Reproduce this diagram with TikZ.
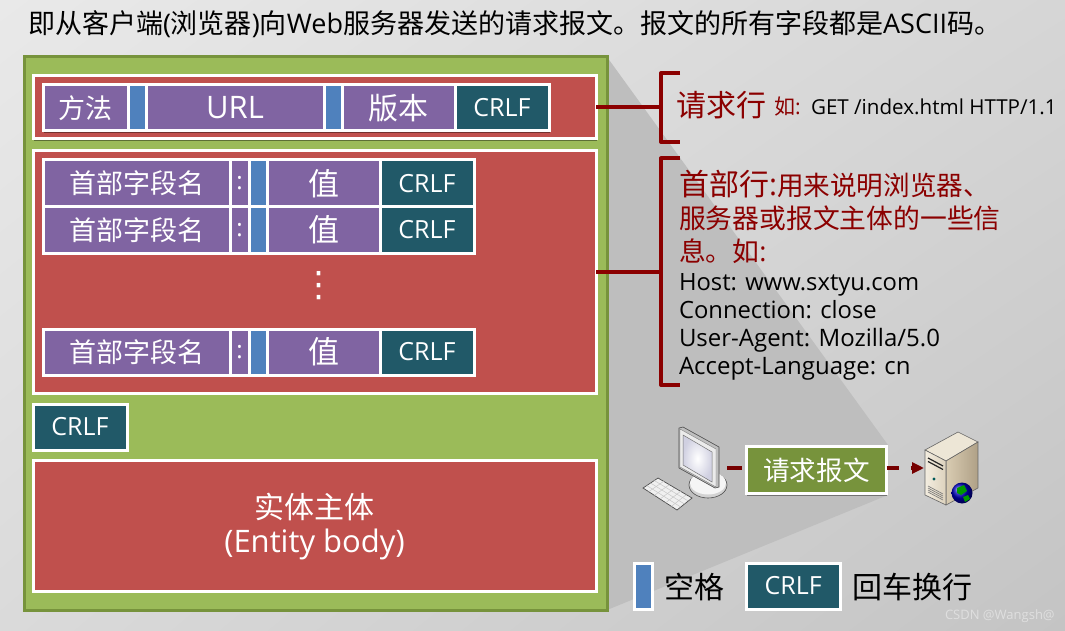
\documentclass[tikz,border=0pt]{standalone}
\usepackage{fontspec}
\setmainfont{Open Sans}
\newfontfamily\cjk{Noto Sans CJK SC}
\newfontfamily\dejav{DejaVu Sans}
\usetikzlibrary{shadows,arrows.meta,shadings}
\definecolor{bgA}{HTML}{E9E9E9}
\definecolor{bgB}{HTML}{D6D6D6}
\definecolor{bgC}{HTML}{DADADA}
\definecolor{bgD}{HTML}{C4C4C4}
\definecolor{wedge}{HTML}{BEBEBE}
\definecolor{grn}{HTML}{9BBB59}
\definecolor{dgrn}{HTML}{77933C}
\definecolor{red1}{HTML}{C0504D}
\definecolor{pur}{HTML}{8064A2}
\definecolor{blu}{HTML}{4F81BD}
\definecolor{teal1}{HTML}{215968}
\definecolor{brk}{HTML}{8B0000}
\definecolor{srvTop}{HTML}{EDE6D6}
\definecolor{srvL1}{HTML}{F3EDE0}
\definecolor{srvL2}{HTML}{DDD2BD}
\definecolor{srvR1}{HTML}{D9CCB2}
\definecolor{srvR2}{HTML}{AFA086}
\newcommand{\fs}[1]{\fontsize{#1}{#1}\selectfont}
\newcommand{\zh}[1]{{\cjk #1}}
\tikzset{
  x=1pt,y=-1pt,
  cell/.style={draw=white,line width=3pt,inner sep=0pt,outer sep=0pt,text=white,align=center,
     drop shadow={shadow xshift=0.5pt,shadow yshift=-2pt,opacity=.4,fill=black}},
  purplecell/.style={cell,fill=pur},
  bluecell/.style={cell,fill=blu},
  crlfcell/.style={cell,fill=teal1,font=\fs{25}},
  redbox/.style={cell,fill=red1},
  brace/.style={draw=brk,line width=4pt},
  lead/.style={draw=brk,line width=4pt},
  txt/.style={anchor=base west,inner sep=0pt,outer sep=0pt},
  flow/.style={draw=brk!85!black,line width=3.5pt},
}
\newcommand{\cellat}[7]{% style,name,x0,y0,x1,y1,text
  \node[#1,minimum width={(#5)-(#3)},minimum height={(#6)-(#4)}] (#2) at ({((#3)+(#5))/2},{((#4)+(#6))/2}) {#7};}
\newcommand{\hrow}[3]{% prefix,y0,y1
  \cellat{purplecell}{#1n}{43}{#2}{230}{#3}{\fs{27}\zh{首部字段名}}
  \cellat{purplecell}{#1c}{230}{#2}{249}{#3}{\fs{24}:}
  \cellat{bluecell}{#1b}{249}{#2}{267}{#3}{}
  \cellat{purplecell}{#1v}{267}{#2}{380}{#3}{\fs{31}\zh{值}}
  \cellat{crlfcell}{#1f}{380}{#2}{474}{#3}{CRLF}}
\begin{document}
\begin{tikzpicture}
\useasboundingbox (0,0) rectangle (1065,631);
\shade[upper left=bgA,upper right=bgB,lower left=bgC,lower right=bgD] (0,0) rectangle (1065,631);
% zoom wedge
\fill[wedge] (607,57) -- (888,445) -- (888,495) -- (607,610) -- cycle;
% main frame
\node[draw=dgrn,fill=grn,line width=3pt,inner sep=0pt,outer sep=0pt,minimum width=583pt,minimum height=553pt] (frame) at (315.5,333.5) {};
% request line
\cellat{redbox}{req}{33}{76}{596}{139}{}
\cellat{purplecell}{m}{43}{85}{128}{131}{\fs{27}\zh{方法}}
\cellat{bluecell}{s1}{128}{85}{146}{131}{}
\cellat{purplecell}{url}{146}{85}{324}{131}{\fs{31}URL}
\cellat{bluecell}{s2}{324}{85}{342}{131}{}
\cellat{purplecell}{ver}{342}{85}{455}{131}{\fs{30}\zh{版本}}
\cellat{crlfcell}{crlf0}{455}{85}{549}{131}{CRLF}
% header lines
\cellat{redbox}{hdr}{33}{151}{596}{393}{}
\hrow{a}{160}{207}
\hrow{b}{207}{253}
\node[text=white,inner sep=0pt,font=\dejav\fs{35}] (dots) at (319,286) {⋮};
\hrow{c}{329}{375}
% blank line + body
\cellat{crlfcell}{crlf1}{33}{404}{127}{450}{CRLF}
\cellat{redbox}{body}{33}{460}{596}{591}{}
\node[txt,anchor=center,text=white,font=\fs{30}] (bodyzh) at (314.5,507) {\zh{实体主体}};
\node[txt,anchor=center,text=white,font=\fs{31}] (bodyen) at (314.5,544) {(Entity body)};
% title
\node[txt,text=black,font=\fs{27}] (title) at (28,33.5) {\zh{即从客户端}(\zh{浏览器})\zh{向}Web\zh{服务器发送的请求报文。报文的所有字段都是}ASCII\zh{码。}};
% brackets
\coordinate (b1) at (661,107.5);
\coordinate (b2) at (661,272);
\draw[brace,line join=round] (680,73) -- (661,73) -- (661,142) -- (680,142);
\draw[brace,line join=round] (680,158.5) -- (661,158.5) -- (661,385) -- (680,385);
\draw[lead] (req.east) -- (b1);
\draw[lead] (hdr.east) -- (b2);
% labels
\node[txt,text=brk,font=\fs{30}] (l1) at (676,117) {\zh{请求行}};
\node[txt,text=brk,font=\fs{21}] (l1b) at (774,115) {\zh{如}:};
\node[txt,text=black,font=\fs{20.6}] (l1c) at (811,115) {GET /index.html HTTP/1.1};
\node[txt,text=brk,font=\fs{30}] (h1) at (679,196) {\zh{首部行}:};
\node[txt,text=brk,font=\fs{26.6}] (h1b) at (777,196) {\zh{用来说明浏览器、}};
\node[txt,text=brk,font=\fs{26.8}] (h2) at (679,229) {\zh{服务器或报文主体的一些信}};
\node[txt,text=brk,font=\fs{26.8}] (h3) at (679,261) {\zh{息。如}:};
\node[txt,text=black,font=\fs{23.8}] (h4) at (679,290) {Host: www.sxtyu.com};
\node[txt,text=black,font=\fs{23.8}] (h5) at (679,318) {Connection: close};
\node[txt,text=black,font=\fs{24}] (h6) at (679,346) {User-Agent: Mozilla/5.0};
\node[txt,text=black,font=\fs{24}] (h7) at (679,374) {Accept-Language: cn};
% computer
\fill[gray!35,draw=black!70,line width=.6pt] (708,485) ellipse (19 and 13);
\fill[white!92!gray] (708,483) ellipse (18 and 11.5);
\fill[black!25,draw=black!70,line width=.6pt] (679,428) -- (683,427) -- (719,447) -- (719,487) -- (715,488) -- (679,468) -- cycle;
\fill[black!8,draw=black!50,line width=.4pt] (680,429) -- (716,449) -- (716,487) -- (680,467) -- cycle;
\shade[inner color=white,outer color=blue!22!gray!30,draw=black!55,line width=.5pt] (683,435) -- (712,452) -- (712,482) -- (683,465) -- cycle;
\fill[black!6,draw=black!70,line width=.7pt] (643,488) -- (658,478) -- (692,498) -- (677,510) -- cycle;
\foreach \i in {1,...,5}{\draw[black!22,line width=.5pt] ({643+5.67*\i},{488+3.67*\i}) -- ({658+5.67*\i},{478+3.33*\i});}
\foreach \i in {1,2,3}{\draw[black!22,line width=.5pt] ({643+3.75*\i},{488-2.5*\i}) -- ({677+3.75*\i},{510-3*\i});}
% server
\fill[srvTop,draw=black!60,line width=.6pt] (925,450) -- (958,432) -- (978,442) -- (946,461) -- cycle;
\shade[left color=srvR1,right color=srvR2,draw=black!60,line width=.6pt] (946,461) -- (978,442) -- (978,488) -- (946,505) -- cycle;
\shade[left color=srvL1,right color=srvL2,draw=black!60,line width=.6pt] (925,450) -- (946,461) -- (946,505) -- (925,495) -- cycle;
\foreach \d in {0,3.5}{\draw[black!85,line width=1.2pt] (928,{458+\d}) -- (943,{466+\d});}
\fill[teal!70!black] (934,479) circle (1.6);
\foreach \d in {0,2,4,6}{\draw[black!55,line width=.6pt] (928,{486+\d}) -- (943,{494+\d});}
\shade[ball color=blue!75!black] (962,493) circle (10.5);
\fill[green!60!black] (957,488) -- (964,485) -- (967,491) -- (961,495) -- (957,493) -- cycle;
\fill[green!60!black] (963,497) -- (968,495) -- (970,499) -- (965,502) -- cycle;
% request message
\node[cell,fill=dgrn,minimum width=140pt,minimum height=47pt,font=\fs{26.6}] (msg) at (816.5,470) {\zh{请求报文}};
\coordinate (pc) at (727,468);
\coordinate (srv) at (924,468);
\draw[flow,dash pattern=on 15pt off 12pt] (pc) -- (msg.west |- pc);
\draw[flow,dash pattern=on 12pt off 12pt,-{Triangle[length=12pt,width=11pt]}] (msg.east |- srv) -- (srv);
% legend
\cellat{bluecell}{lgb}{634}{563}{652}{609}{}
\node[txt,anchor=west,text=black,font=\fs{30}] (lg1) at (664,587) {\zh{空格}};
\cellat{crlfcell}{lgc}{746.5}{563}{840}{609}{CRLF}
\node[txt,anchor=west,text=black,font=\fs{30}] (lg2) at (852,587) {\zh{回车换行}};
\node[txt,text=white!75!gray,font=\fs{13}] (wm) at (945,619) {CSDN @Wangsh@};
\end{tikzpicture}
\end{document}
